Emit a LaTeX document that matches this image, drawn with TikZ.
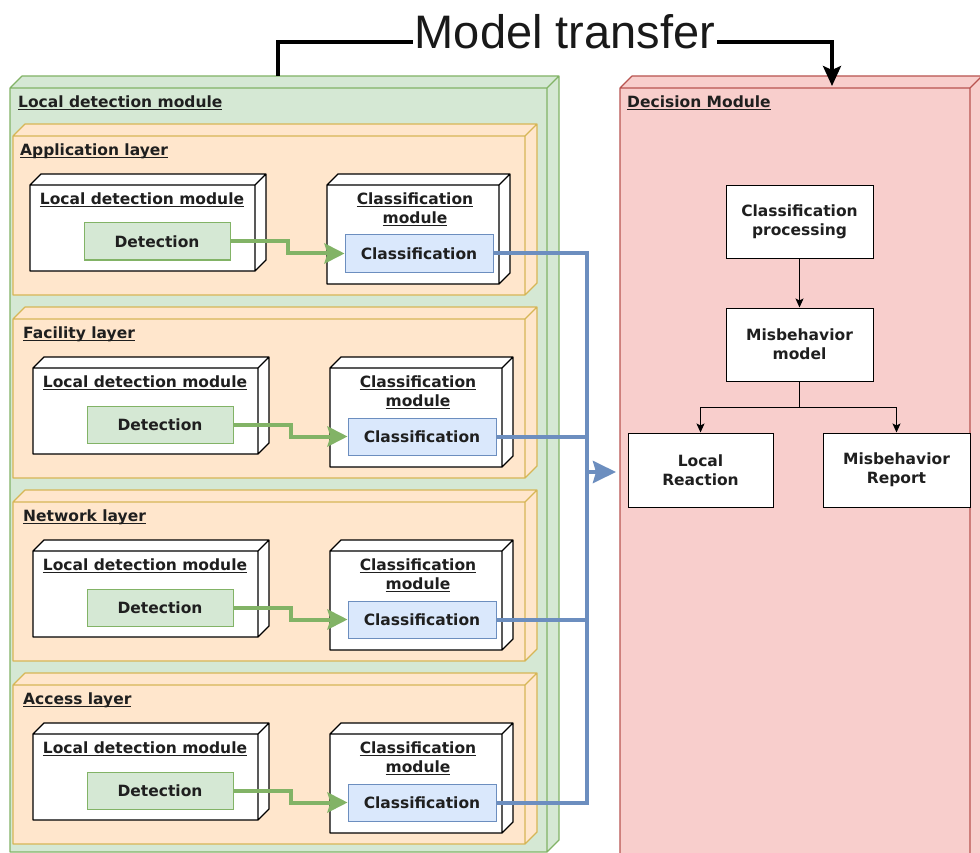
\documentclass[tikz,border=0pt]{standalone}
\usepackage{fontspec}
\setmainfont{DejaVu Sans}
\newfontfamily\titlefont{Liberation Sans}
\usetikzlibrary{arrows.meta}
\definecolor{gfill}{HTML}{D5E8D4}
\definecolor{gline}{HTML}{82B366}
\definecolor{ofill}{HTML}{FFE6CC}
\definecolor{oline}{HTML}{D6B656}
\definecolor{rfill}{HTML}{F8CECC}
\definecolor{rline}{HTML}{B85450}
\definecolor{bfill}{HTML}{DAE8FC}
\definecolor{bline}{HTML}{6C8EBF}
\newcommand{\myul}[1]{\begingroup\setbox0=\hbox{#1}\rlap{\rule[-2.6pt]{\wd0}{1.2pt}}\box0\endgroup}
% #1 x1, #2 y1 (front top), #3 x2, #4 y2 (front bottom), #5 depth, #6 style
\newcommand{\cubeshape}[6]{%
  \path[#6,draw=none] (#1,#2) -- ({#1+#5},{#2-#5}) -- ({#3+#5},{#2-#5}) -- ({#3+#5},{#4-#5}) -- (#3,#4) -- (#1,#4) -- cycle;
  \draw[#6,fill=none,line join=round] (#1,#2) -- ({#1+#5},{#2-#5}) -- ({#3+#5},{#2-#5}) -- ({#3+#5},{#4-#5}) -- (#3,#4) -- (#1,#4) -- cycle
     (#1,#2) -- (#3,#2) -- (#3,#4) (#3,#2) -- ({#3+#5},{#2-#5});
}
\tikzset{
  gcube/.style={fill=gfill,draw=gline,line width=1.2pt},
  ocube/.style={fill=ofill,draw=oline,line width=1.2pt},
  rcube/.style={fill=rfill,draw=rline,line width=1.2pt},
  wcube/.style={fill=white,draw=black,line width=1.3pt},
  lbl/.style={font=\fontsize{15.5}{19}\selectfont\bfseries,text=black!88,inner sep=0pt},
  detbox/.style={lbl,rectangle,fill=gfill,draw=gline,line width=1pt,minimum width=146pt,minimum height=37pt},
  clsbox/.style={lbl,rectangle,fill=bfill,draw=bline,line width=1pt,minimum width=148pt,minimum height=37pt},
  decbox/.style={lbl,rectangle,fill=white,draw=black,line width=1pt,minimum width=147pt,minimum height=73pt,align=center},
  garrow/.style={draw=gline,line width=4pt,-{Stealth[length=20pt,width=20pt,inset=3pt]}},
  bconn/.style={draw=bline,line width=4pt},
  karrow/.style={draw=black,line width=1.2pt,-{Stealth[length=9pt,width=8pt,inset=2pt]}},
  mtline/.style={draw=black,line width=3.5pt,line join=miter,-{Stealth[length=20pt,width=18pt,inset=4pt]}}
}
\begin{document}
\begin{tikzpicture}[x=1pt,y=-1pt]
\useasboundingbox (0,0) rectangle (980,853);
\clip (0,0) rectangle (980,853);
\fill[white] (0,0) rectangle (980,853);

% Model transfer connector
\coordinate (gtop) at (278,76);
\coordinate (mtL) at (278,42);
\coordinate (mtR) at (832,42);
\coordinate (rtop) at (832,86);

% green outer module
\cubeshape{10}{88}{547}{852}{12}{gcube}
\node[lbl,anchor=west] (ldmtop) at (18,103) {\myul{Local detection module}};

% decision module
\cubeshape{620}{88}{970}{880}{12}{rcube}
\node[lbl,anchor=west] (dmlab) at (627,103) {\myul{Decision Module}};

\draw[mtline] (gtop) -- (mtL) -- (mtR) -- (rtop);
\node[font=\titlefont\fontsize{47}{56}\selectfont,fill=white,inner sep=2pt,anchor=base,text=black!90] (mt) at (565,48.5) {Model transfer};

% layers
\foreach \i/\lab/\dx in {0/Application layer/-3,1/Facility layer/0,2/Network layer/0,3/Access layer/0}{
  \pgfmathsetmacro{\oy}{(\i-1)*183}
  \cubeshape{13}{319+\oy}{525}{478+\oy}{12}{ocube}
  \node[lbl,anchor=west] (lay\i) at (23+\dx,334+\oy) {\myul{\lab}};
  \cubeshape{33+\dx}{368+\oy}{258+\dx}{454+\oy}{11}{wcube}
  \node[lbl] (ldm\i) at (145+\dx,383+\oy) {\myul{Local detection module}};
  \node[detbox] (det\i) at (160+\dx,424.5+\oy) {Detection};
  \cubeshape{330+\dx}{368+\oy}{502+\dx}{467+\oy}{11}{wcube}
  \node[lbl,align=center] (cm\i) at (418+\dx,392.5+\oy) {\myul{Classification}\\\myul{module}};
  \node[clsbox] (cls\i) at (422+\dx,436.5+\oy) {Classification};
  \draw[garrow] (det\i.east) -- ++(57,0) |- (cls\i.west);
  \coordinate (j\i) at (587,436.5+\oy);
}
\draw[bconn] (cls1.east) -- (j1);
\draw[bconn] (cls2.east) -- (j2);
\draw[bconn,line join=miter] (cls0.east) -- (j0) -- (j3) -- (cls3.east);
\coordinate (bs) at (587,472);
\coordinate (be) at (616,472);
\draw[bconn,-{Stealth[length=23pt,width=22pt,inset=3pt]}] (bs) -- (be);

% decision boxes
\node[decbox] (cp) at (799.5,222) {Classification\\processing};
\node[decbox] (mm) at (799.5,344.5) {Misbehavior\\model};
\node[decbox,minimum width=145pt,minimum height=74pt] (lr) at (700.5,470) {Local\\Reaction};
\node[decbox,minimum height=74pt] (mr) at (896.5,470) {Misbehavior\\Report};
\draw[karrow] (cp) -- (mm);
\draw[karrow] (mm.south) -- ++(0,26) -| (lr.north);
\draw[karrow] (mm.south) -- ++(0,26) -| (mr.north);
\end{tikzpicture}
\end{document}
